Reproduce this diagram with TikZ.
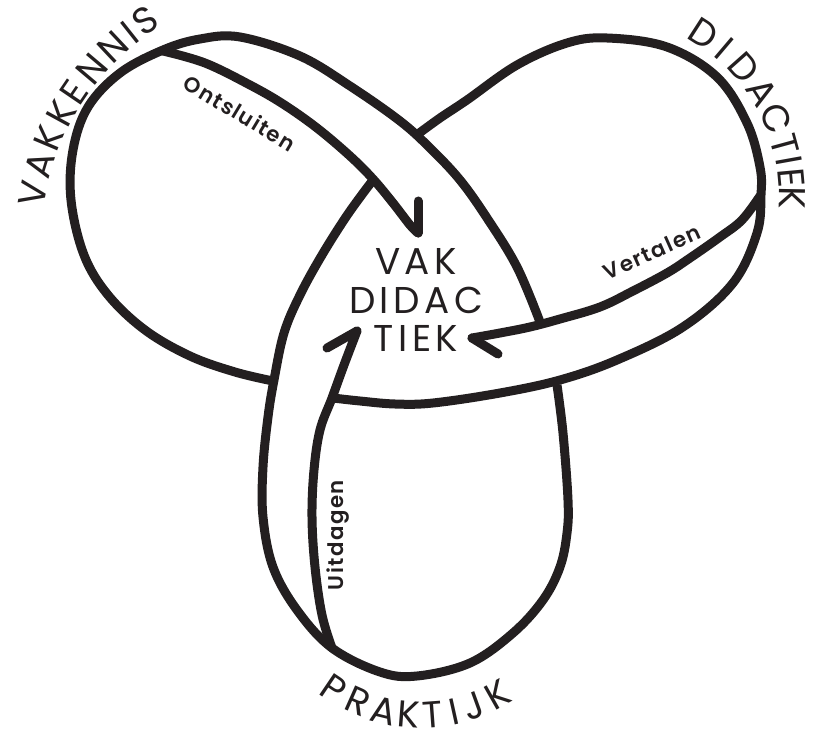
\documentclass[tikz,border=0pt]{standalone}
\usepackage{fontspec}
\setmainfont{Poppins}
\IfFontExistsTF{Poppins SemiBold}{\newfontfamily\semifont{Poppins SemiBold}}{\newcommand\semifont{\bfseries}}
\definecolor{ink}{RGB}{35,31,32}
\begin{document}
\begin{tikzpicture}[x=0.75pt,y=-0.75pt,
  strand/.style={draw=ink, line width=6.75pt, line cap=butt, line join=round},
  arrowline/.style={draw=ink, line width=6.75pt, line cap=round, line join=round},
  smalllabel/.style={font=\semifont\fontsize{16}{16}\selectfont\addfontfeatures{LetterSpace=7}, text=ink, inner sep=0pt},
  arcletter/.style={font=\fontsize{28}{28}\selectfont, text=ink, inner sep=0pt, anchor=base}]
\useasboundingbox (0,0) rectangle (833,749);

% tips of the knot
\coordinate (vtip) at (163,51);
\coordinate (dtip) at (760,196);
\coordinate (ptip) at (332,648);

% knot strands
\draw[strand] plot[smooth, tension=0.6] coordinates {(273,381) (235,372) (190,356) (145,330) (108,295) (84,255) (71,200) (73,150) (88,107) (120,73) (163,50) (200,39) (240,37) (300,56) (350,86) (400,121) (430,148) (460,180) (487,218) (517,267) (540,322)};
\draw[strand] plot[smooth, tension=0.6] coordinates {(557,385) (563,433) (568,500) (567,533) (560,567) (543,600) (513,633) (470,663) (417,676) (380,672) (332,648) (297,610) (273,567) (263,517) (263,467) (268,417) (274,380) (284,333) (300,295) (322,255) (348,214) (373,180)};
\draw[strand] plot[smooth, tension=0.6] coordinates {(418,134) (440,118) (467,100) (517,65) (567,43) (607,38) (667,47) (717,77) (747,123) (760,167) (761,195) (757,233) (733,283) (683,327) (617,360) (560,380) (500,393) (433,403) (395,404) (360,401) (333,398)};

% arrows
\coordinate (otip) at (418,233);
\coordinate (obarb) at (418,201);
\coordinate (vttip) at (472,338);
\coordinate (vtbarb) at (498,354);
\coordinate (utip) at (357,331);
\coordinate (ubarb) at (327,348);
\draw[arrowline] plot[smooth, tension=0.6] coordinates {(163,51) (205,63) (250,85) (283,104) (317,128) (350,156) (373,179) (393,203) (410,225) (418,233)};
\draw[arrowline] (otip) -- (obarb);
\draw[arrowline] plot[smooth, tension=0.6] coordinates {(760,196) (742,220) (720,237) (690,258) (667,273) (633,291) (600,307) (560,319) (530,327) (500,333) (472,338)};
\draw[arrowline] (vttip) -- (vtbarb);
\draw[arrowline] plot[smooth, tension=0.6] coordinates {(332,648) (322,615) (315,567) (312,517) (314,470) (320,430) (332,398) (344,365) (357,331)};
\draw[arrowline] (utip) -- (ubarb);

% labels on arcs, letter by letter
\foreach \ch/\a [count=\i] in {V/190.6, A/196.9, K/202.9, K/208.7, E/214.2, N/220.2, N/226.8, I/231.6, S/235.7}
  \node[arcletter, rotate={270-\a}] (vak\i) at ({297+256*cos(\a)},{243+256*sin(\a)}) {\ch};
\foreach \ch/\a [count=\i] in {D/-57.2, I/-49.7, D/-41.6, A/-32.3, C/-23.6, T/-15.3, I/-10.2, E/-5.2, K/1.0}
  \node[arcletter, rotate={270-\a}] (did\i) at ({600+179*cos(\a)},{195+179*sin(\a)}) {\ch};
\foreach \ch/\a [count=\i] in {P/124.1, R/113.9, A/103.8, K/94.4, T/85.8, I/77.5, J/70.2, K/60.4}
  \node[arcletter, rotate={90-\a}] (prk\i) at ({421+168*cos(\a)},{560+168*sin(\a)}) {\ch};

% centre
\node[align=center, text=ink, font=\fontsize{28}{29}\selectfont\addfontfeatures{LetterSpace=12}] (centre) at (416,300) {VAK\\DIDAC\\TIEK};

% arrow labels
\node[smalllabel, rotate=-31] (ontsl) at (240,113) {Ontsluiten};
\node[smalllabel, rotate=24] (vert) at (652,252) {Vertalen};
\node[smalllabel, rotate=90] (uitd) at (338,535) {Uitdagen};
\end{tikzpicture}
\end{document}
